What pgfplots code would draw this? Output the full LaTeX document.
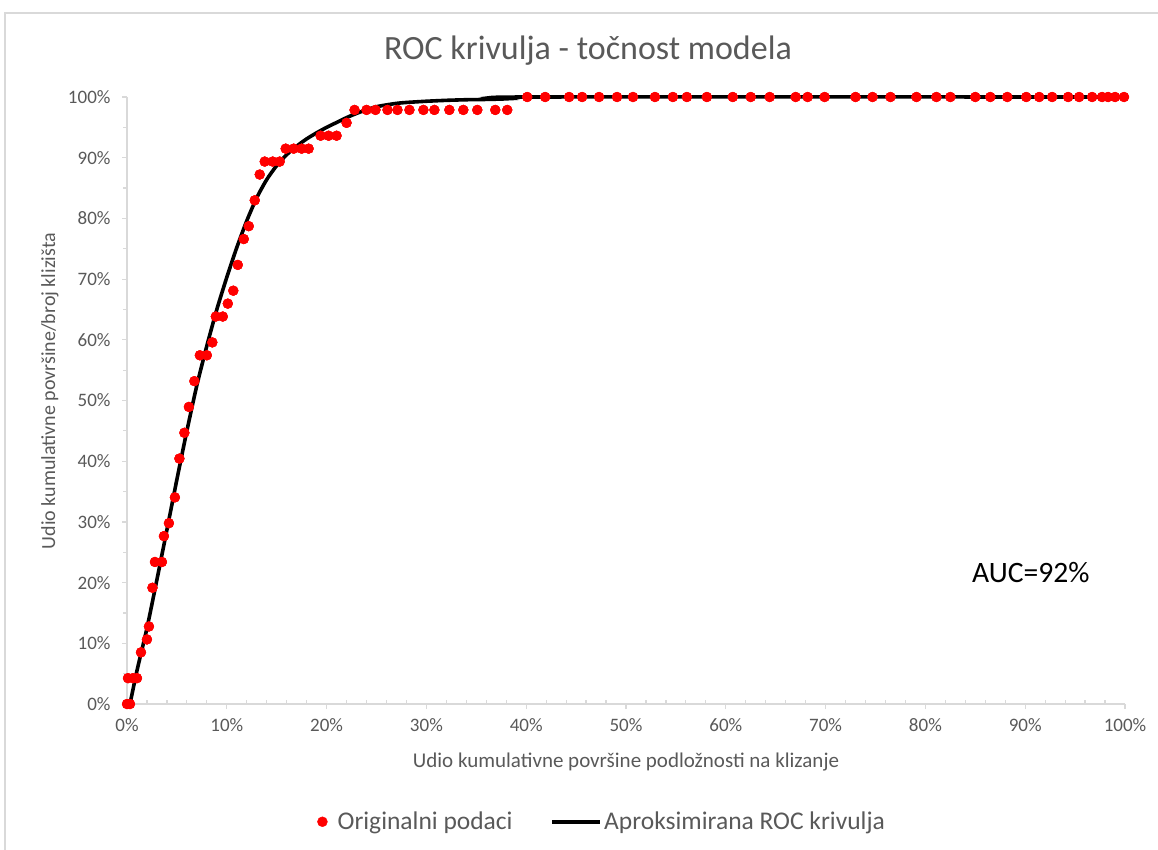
\documentclass[border=0pt]{standalone}
\usepackage{fontspec}
\setmainfont{Carlito}
\usepackage{pgfplots}
\pgfplotsset{compat=1.18}
\definecolor{txt}{HTML}{595959}
\definecolor{axl}{HTML}{D9D9D9}
\pgfplotstableread{
x y
0 0
0.3 0
0.1 4.26
0.6 4.26
1.0 4.26
1.4 8.51
2.0 10.64
2.2 12.77
2.55 19.15
2.8 23.40
3.5 23.40
3.7 27.66
4.2 29.79
4.8 34.04
5.25 40.43
5.75 44.68
6.2 48.94
6.75 53.19
7.3 57.45
8.0 57.45
8.55 59.57
8.9 63.83
9.6 63.83
10.1 65.96
10.65 68.09
11.1 72.34
11.7 76.60
12.2 78.72
12.8 82.98
13.3 87.23
13.8 89.36
14.6 89.36
15.3 89.36
15.9 91.49
16.7 91.49
17.5 91.49
18.2 91.49
19.4 93.62
20.2 93.62
21.0 93.62
22.0 95.74
22.8 97.87
24.0 97.87
24.9 97.87
26.1 97.87
27.1 97.87
28.3 97.87
29.7 97.87
30.8 97.87
32.3 97.87
33.7 97.87
35.1 97.87
36.9 97.87
38.1 97.87
40.1 100
41.9 100
44.3 100
45.6 100
47.3 100
49.1 100
50.7 100
52.9 100
54.7 100
56.1 100
58.1 100
60.7 100
62.5 100
64.4 100
67.0 100
68.2 100
69.9 100
73.0 100
74.7 100
76.5 100
79.1 100
81.1 100
82.5 100
85.0 100
86.5 100
88.2 100
90.1 100
91.4 100
92.7 100
94.3 100
95.4 100
96.7 100
97.7 100
98.3 100
99.0 100
99.9 100
}\pts
\pgfplotstableread{
x y
0.3 0
1 5.5
2 12.5
3 20.5
4 28.7
5 37
6 45
7 52.5
8 59
9 65
10 70.3
11 75.2
12 79.6
13 83.4
14 86.4
15 88.7
16 90.5
17 91.9
18 93.1
19 94.1
20 95.0
21 95.8
22 96.6
23 97.3
24 97.9
25 98.4
26 98.7
27 98.95
28 99.1
30 99.3
32 99.45
34 99.55
36 99.6
38 99.7
40 100
100 100
}\curve
\begin{document}
\begin{tikzpicture}
\path[use as bounding box] (0,0) rectangle (1158pt,-850pt);
\draw[axl, line width=1.2pt] (5pt,-870pt) -- (5pt,-13pt) -- (1180pt,-13pt);
\begin{axis}[
  at={(127pt,-704pt)}, anchor=south west,
  scale only axis, width=998pt, height=607pt,
  xmin=0, xmax=100, ymin=0, ymax=100,
  clip=false,
  axis x line*=bottom, axis y line*=left,
  axis line style={axl, line width=1.2pt},
  tick style={axl, line width=1.2pt},
  tick align=outside,
  major tick length=5pt, minor tick length=4pt,
  minor x tick num=4, minor y tick num=1,
  minor x tick style={yshift=4pt},
  xtick={0,10,...,100}, ytick={0,10,...,100},
  xticklabels={0\%,10\%,20\%,30\%,40\%,50\%,60\%,70\%,80\%,90\%,100\%},
  yticklabels={0\%,10\%,20\%,30\%,40\%,50\%,60\%,70\%,80\%,90\%,100\%},
  ticklabel style={font=\fontsize{19}{22}\selectfont, text=txt},
  xticklabel style={yshift=-6pt},
  yticklabel style={xshift=-8pt},
  legend style={at={(0.476,-0.194)}, anchor=center, draw=none, fill=none,
    legend columns=2, font=\fontsize{25.5}{28}\selectfont, text=txt,
    /tikz/every even column/.append style={column sep=36pt}},
]
\addplot[only marks, mark=*, mark size=5pt, mark options={fill=red, draw=red, line width=0.2pt},
  legend image code/.code={\fill[red] (0pt,0pt) circle (5pt); \fill[white, opacity=0] (-5pt,-1pt) rectangle (13pt,1pt);}] table[x=x,y=y] {\pts};
\addlegendentry{Originalni podaci}
\addplot[black, line width=3.6pt, smooth, tension=0.4,
  legend image code/.code={\draw[black, line width=3.5pt] (0pt,0pt) -- (48pt,0pt);}] table[x=x,y=y] {\curve};
\addlegendentry{Aproksimirana ROC krivulja}
\addplot[forget plot, only marks, mark=*, mark size=5pt, mark options={fill=red, draw=red, line width=0.2pt}] table[x=x,y=y] {\pts};
\end{axis}
\node[text=txt, font=\fontsize{34}{40}\selectfont] at (588pt,-51pt) {ROC krivulja - točnost modela};
\node[text=txt, font=\fontsize{21}{24}\selectfont] at (626pt,-762pt) {Udio kumulativne površine podložnosti na klizanje};
\node[text=txt, font=\fontsize{20}{24}\selectfont, rotate=90] at (50pt,-391pt) {Udio kumulativne površine/broj klizišta};
\node[anchor=west, text=black, font=\fontsize{29.6}{32}\selectfont, inner sep=0pt] at (972pt,-573pt) {AUC=92\%};
\end{tikzpicture}
\end{document}
